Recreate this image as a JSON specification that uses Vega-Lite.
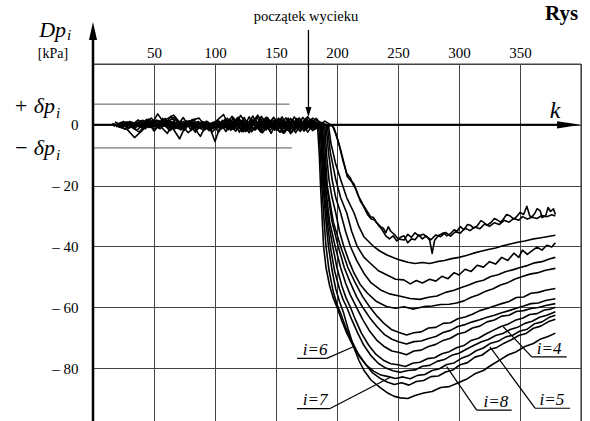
{
"$schema":"https://vega.github.io/schema/vega-lite/v6.json",
"width":488,"height":357,
"autosize":{"type":"none"},
"padding":{"left":93,"top":64,"right":9,"bottom":0},
"background":"white",
"config":{"view":{"stroke":null},"font":"Liberation Serif"},
"datasets":{
"curves":[
{"c":"L3","k":16,"v":0.3},{"c":"L3","k":22,"v":-0.8},{"c":"L3","k":28,"v":-1.5},{"c":"L3","k":34,"v":-4.2},{"c":"L3","k":40,"v":-2},{"c":"L3","k":46,"v":0.5},{"c":"L3","k":52,"v":1.2},{"c":"L3","k":58,"v":-0.5},{"c":"L3","k":64,"v":2.8},{"c":"L3","k":70,"v":-1},{"c":"L3","k":76,"v":0.6},{"c":"L3","k":82,"v":-0.4},{"c":"L3","k":88,"v":-3.8},{"c":"L3","k":94,"v":0.9},{"c":"L3","k":100,"v":-5.5},{"c":"L3","k":106,"v":1.5},{"c":"L3","k":112,"v":-1.2},{"c":"L3","k":118,"v":2.2},{"c":"L3","k":124,"v":-2},{"c":"L3","k":130,"v":1.8},{"c":"L3","k":136,"v":-1.5},{"c":"L3","k":142,"v":2.5},{"c":"L3","k":148,"v":-0.8},{"c":"L3","k":154,"v":-2.4},{"c":"L3","k":160,"v":1.6},{"c":"L3","k":166,"v":-1.3},{"c":"L3","k":172,"v":2.4},{"c":"L3","k":178,"v":-0.5},
{"c":"L3","k":184,"v":0},{"c":"L3","k":185.5,"v":-10},{"c":"L3","k":186.5,"v":-20},{"c":"L3","k":188,"v":-32},{"c":"L3","k":189,"v":-40},{"c":"L3","k":191,"v":-47},{"c":"L3","k":194,"v":-53},{"c":"L3","k":197,"v":-57},{"c":"L3","k":200,"v":-60},{"c":"L3","k":204,"v":-64.5},{"c":"L3","k":208,"v":-68.5},{"c":"L3","k":213,"v":-72.5},{"c":"L3","k":218,"v":-76},{"c":"L3","k":224,"v":-79},{"c":"L3","k":230,"v":-81},{"c":"L3","k":236,"v":-82.3},{"c":"L3","k":242,"v":-82.8},{"c":"L3","k":248,"v":-83.4},{"c":"L3","k":254,"v":-82.9},{"c":"L3","k":260,"v":-83.5},{"c":"L3","k":266,"v":-82.4},{"c":"L3","k":272,"v":-82.1},{"c":"L3","k":278,"v":-80.8},{"c":"L3","k":284,"v":-80.2},{"c":"L3","k":290,"v":-78.8},{"c":"L3","k":296,"v":-78.3},{"c":"L3","k":302,"v":-76.8},{"c":"L3","k":308,"v":-75.9},{"c":"L3","k":314,"v":-74.3},{"c":"L3","k":320,"v":-73.4},{"c":"L3","k":326,"v":-71.8},{"c":"L3","k":332,"v":-71.2},{"c":"L3","k":338,"v":-69.8},{"c":"L3","k":344,"v":-69.2},{"c":"L3","k":350,"v":-67.8},{"c":"L3","k":356,"v":-67.2},{"c":"L3","k":362,"v":-65.4},{"c":"L3","k":368,"v":-64.8},{"c":"L3","k":374,"v":-63.3},{"c":"L3","k":379,"v":-62.6},
{"c":"L2","k":17,"v":-0.5},{"c":"L2","k":23,"v":0.8},{"c":"L2","k":29,"v":-1.2},{"c":"L2","k":35,"v":0.4},{"c":"L2","k":41,"v":1.5},{"c":"L2","k":47,"v":-0.6},{"c":"L2","k":53,"v":3.6},{"c":"L2","k":59,"v":0.2},{"c":"L2","k":65,"v":-0.9},{"c":"L2","k":71,"v":-4.6},{"c":"L2","k":77,"v":0.7},{"c":"L2","k":83,"v":-1.1},{"c":"L2","k":89,"v":0.5},{"c":"L2","k":95,"v":-0.8},{"c":"L2","k":101,"v":1.2},{"c":"L2","k":107,"v":3.4},{"c":"L2","k":113,"v":-1.8},{"c":"L2","k":119,"v":2.5},{"c":"L2","k":125,"v":-1.4},{"c":"L2","k":131,"v":2.9},{"c":"L2","k":137,"v":-2.2},{"c":"L2","k":143,"v":1.7},{"c":"L2","k":149,"v":-0.9},{"c":"L2","k":155,"v":2.6},{"c":"L2","k":161,"v":-1.9},{"c":"L2","k":167,"v":1.4},{"c":"L2","k":173,"v":-2.1},{"c":"L2","k":179,"v":1.8},
{"c":"L2","k":185,"v":0},{"c":"L2","k":186.5,"v":-10},{"c":"L2","k":187.5,"v":-20},{"c":"L2","k":189.5,"v":-32},{"c":"L2","k":191,"v":-40},{"c":"L2","k":193.5,"v":-48},{"c":"L2","k":197,"v":-55},{"c":"L2","k":200,"v":-59},{"c":"L2","k":203,"v":-62},{"c":"L2","k":207,"v":-66.5},{"c":"L2","k":212,"v":-71},{"c":"L2","k":217,"v":-75},{"c":"L2","k":223,"v":-78.5},{"c":"L2","k":229,"v":-81.5},{"c":"L2","k":235,"v":-83.3},{"c":"L2","k":241,"v":-84.6},{"c":"L2","k":247,"v":-85.4},{"c":"L2","k":253,"v":-84.8},{"c":"L2","k":259,"v":-85.6},{"c":"L2","k":265,"v":-84.4},{"c":"L2","k":271,"v":-84.1},{"c":"L2","k":277,"v":-82.8},{"c":"L2","k":283,"v":-82.6},{"c":"L2","k":289,"v":-81.3},{"c":"L2","k":295,"v":-80.6},{"c":"L2","k":301,"v":-78.9},{"c":"L2","k":307,"v":-78.2},{"c":"L2","k":313,"v":-76.4},{"c":"L2","k":319,"v":-75.7},{"c":"L2","k":325,"v":-73.9},{"c":"L2","k":331,"v":-73.2},{"c":"L2","k":337,"v":-71.8},{"c":"L2","k":343,"v":-70.7},{"c":"L2","k":349,"v":-69.3},{"c":"L2","k":355,"v":-68.6},{"c":"L2","k":361,"v":-66.9},{"c":"L2","k":367,"v":-66.2},{"c":"L2","k":373,"v":-64.8},{"c":"L2","k":379,"v":-63.9},
{"c":"L1","k":18,"v":0.9},{"c":"L1","k":24,"v":-0.3},{"c":"L1","k":30,"v":0.6},{"c":"L1","k":36,"v":-1.8},{"c":"L1","k":42,"v":0.5},{"c":"L1","k":48,"v":2.2},{"c":"L1","k":54,"v":-1.1},{"c":"L1","k":60,"v":1.8},{"c":"L1","k":66,"v":3.2},{"c":"L1","k":72,"v":0.4},{"c":"L1","k":78,"v":-2.6},{"c":"L1","k":84,"v":-0.7},{"c":"L1","k":90,"v":1.1},{"c":"L1","k":96,"v":-1.6},{"c":"L1","k":102,"v":0.3},{"c":"L1","k":108,"v":-0.9},{"c":"L1","k":114,"v":2.8},{"c":"L1","k":120,"v":-2.4},{"c":"L1","k":126,"v":1.2},{"c":"L1","k":132,"v":-1.7},{"c":"L1","k":138,"v":2.8},{"c":"L1","k":144,"v":-1.3},{"c":"L1","k":150,"v":1.9},{"c":"L1","k":156,"v":-2.8},{"c":"L1","k":162,"v":2.1},{"c":"L1","k":168,"v":-0.8},{"c":"L1","k":174,"v":1.5},{"c":"L1","k":180,"v":-1.9},
{"c":"L1","k":186,"v":0},{"c":"L1","k":187.5,"v":-10},{"c":"L1","k":188.5,"v":-20},{"c":"L1","k":191,"v":-32},{"c":"L1","k":193,"v":-40},{"c":"L1","k":196,"v":-48},{"c":"L1","k":199,"v":-54},{"c":"L1","k":202,"v":-58},{"c":"L1","k":205.5,"v":-62},{"c":"L1","k":209,"v":-67},{"c":"L1","k":213.6,"v":-73},{"c":"L1","k":218,"v":-77.5},{"c":"L1","k":222,"v":-80.7},{"c":"L1","k":228,"v":-84},{"c":"L1","k":235.7,"v":-86.5},{"c":"L1","k":242,"v":-88.3},{"c":"L1","k":247,"v":-89.3},{"c":"L1","k":252,"v":-89.8},{"c":"L1","k":258,"v":-90},{"c":"L1","k":264,"v":-89},{"c":"L1","k":271,"v":-88.2},{"c":"L1","k":278,"v":-87.7},{"c":"L1","k":285,"v":-86.4},{"c":"L1","k":292,"v":-86.1},{"c":"L1","k":299,"v":-84.9},{"c":"L1","k":306,"v":-83.7},{"c":"L1","k":313,"v":-81.9},{"c":"L1","k":320,"v":-80.8},{"c":"L1","k":327,"v":-78.9},{"c":"L1","k":334,"v":-77.2},{"c":"L1","k":340,"v":-75.7},{"c":"L1","k":347,"v":-74.6},{"c":"L1","k":354,"v":-72.9},{"c":"L1","k":361,"v":-71.9},{"c":"L1","k":367,"v":-70.4},{"c":"L1","k":373,"v":-69.6},{"c":"L1","k":379,"v":-68.5},
{"c":"L4","k":19,"v":-0.2},{"c":"L4","k":25,"v":1.1},{"c":"L4","k":31,"v":-0.7},{"c":"L4","k":37,"v":0.8},{"c":"L4","k":43,"v":-1.3},{"c":"L4","k":49,"v":1.6},{"c":"L4","k":55,"v":-0.4},{"c":"L4","k":61,"v":-2.8},{"c":"L4","k":67,"v":1.9},{"c":"L4","k":73,"v":-1.2},{"c":"L4","k":79,"v":1.4},{"c":"L4","k":85,"v":-0.3},{"c":"L4","k":91,"v":-1.8},{"c":"L4","k":97,"v":0.6},{"c":"L4","k":103,"v":-2.4},{"c":"L4","k":109,"v":1.8},{"c":"L4","k":115,"v":-1.5},{"c":"L4","k":121,"v":3.1},{"c":"L4","k":127,"v":-0.6},{"c":"L4","k":133,"v":2.1},{"c":"L4","k":139,"v":-2.6},{"c":"L4","k":145,"v":0.9},{"c":"L4","k":151,"v":-1.6},{"c":"L4","k":157,"v":1.2},{"c":"L4","k":163,"v":-2.5},{"c":"L4","k":169,"v":2.3},{"c":"L4","k":175,"v":-1.4},{"c":"L4","k":181,"v":0.8},
{"c":"L4","k":186.5,"v":0},{"c":"L4","k":188,"v":-10},{"c":"L4","k":189,"v":-20},{"c":"L4","k":192,"v":-32},{"c":"L4","k":194.5,"v":-40},{"c":"L4","k":198,"v":-48},{"c":"L4","k":202,"v":-54},{"c":"L4","k":205,"v":-57.5},{"c":"L4","k":208,"v":-60},{"c":"L4","k":212,"v":-64},{"c":"L4","k":217,"v":-68.5},{"c":"L4","k":222,"v":-72.5},{"c":"L4","k":228,"v":-76},{"c":"L4","k":234,"v":-78.5},{"c":"L4","k":240,"v":-80},{"c":"L4","k":246,"v":-80.9},{"c":"L4","k":252,"v":-81.4},{"c":"L4","k":258,"v":-80.8},{"c":"L4","k":264,"v":-80.6},{"c":"L4","k":270,"v":-79.4},{"c":"L4","k":276,"v":-79.1},{"c":"L4","k":282,"v":-77.8},{"c":"L4","k":288,"v":-77.2},{"c":"L4","k":294,"v":-75.8},{"c":"L4","k":300,"v":-75.1},{"c":"L4","k":306,"v":-73.8},{"c":"L4","k":312,"v":-72.6},{"c":"L4","k":318,"v":-71.4},{"c":"L4","k":324,"v":-70.6},{"c":"L4","k":330,"v":-69.3},{"c":"L4","k":336,"v":-68.6},{"c":"L4","k":342,"v":-67.3},{"c":"L4","k":348,"v":-66.6},{"c":"L4","k":354,"v":-65.3},{"c":"L4","k":360,"v":-64.6},{"c":"L4","k":366,"v":-63.3},{"c":"L4","k":372,"v":-62.6},{"c":"L4","k":379,"v":-61.5},
{"c":"L5","k":20,"v":0.6},{"c":"L5","k":26,"v":-1.4},{"c":"L5","k":32,"v":0.9},{"c":"L5","k":38,"v":-0.5},{"c":"L5","k":44,"v":1.8},{"c":"L5","k":50,"v":-2.1},{"c":"L5","k":56,"v":0.7},{"c":"L5","k":62,"v":1.3},{"c":"L5","k":68,"v":-0.8},{"c":"L5","k":74,"v":2.4},{"c":"L5","k":80,"v":-1.6},{"c":"L5","k":86,"v":1.1},{"c":"L5","k":92,"v":-0.4},{"c":"L5","k":98,"v":-2.3},{"c":"L5","k":104,"v":0.8},{"c":"L5","k":110,"v":-1.2},{"c":"L5","k":116,"v":1.5},{"c":"L5","k":122,"v":-2.2},{"c":"L5","k":128,"v":2.6},{"c":"L5","k":134,"v":-1.1},{"c":"L5","k":140,"v":1.4},{"c":"L5","k":146,"v":-2.8},{"c":"L5","k":152,"v":2.2},{"c":"L5","k":158,"v":-0.7},{"c":"L5","k":164,"v":1.6},{"c":"L5","k":170,"v":-2.2},{"c":"L5","k":176,"v":2.7},{"c":"L5","k":182,"v":-0.6},
{"c":"L5","k":187,"v":0},{"c":"L5","k":188.5,"v":-10},{"c":"L5","k":190,"v":-20},{"c":"L5","k":193,"v":-32},{"c":"L5","k":196.5,"v":-40},{"c":"L5","k":200,"v":-47},{"c":"L5","k":204,"v":-53},{"c":"L5","k":207.5,"v":-57},{"c":"L5","k":211,"v":-60},{"c":"L5","k":215,"v":-64},{"c":"L5","k":220,"v":-68.5},{"c":"L5","k":226,"v":-72.5},{"c":"L5","k":232,"v":-75.5},{"c":"L5","k":238,"v":-77.4},{"c":"L5","k":244,"v":-78.6},{"c":"L5","k":250,"v":-78.9},{"c":"L5","k":256,"v":-79.5},{"c":"L5","k":262,"v":-78.4},{"c":"L5","k":268,"v":-78.1},{"c":"L5","k":274,"v":-76.9},{"c":"L5","k":280,"v":-76.6},{"c":"L5","k":286,"v":-75.3},{"c":"L5","k":292,"v":-74.6},{"c":"L5","k":298,"v":-73.3},{"c":"L5","k":304,"v":-72.6},{"c":"L5","k":310,"v":-70.9},{"c":"L5","k":316,"v":-70.2},{"c":"L5","k":322,"v":-68.8},{"c":"L5","k":328,"v":-67.6},{"c":"L5","k":334,"v":-66.4},{"c":"L5","k":340,"v":-65.6},{"c":"L5","k":346,"v":-64.3},{"c":"L5","k":352,"v":-63.6},{"c":"L5","k":358,"v":-62.4},{"c":"L5","k":364,"v":-62.1},{"c":"L5","k":370,"v":-60.9},{"c":"L5","k":375,"v":-60.6},{"c":"L5","k":379,"v":-60},
{"c":"L6","k":21,"v":-0.9},{"c":"L6","k":27,"v":0.4},{"c":"L6","k":33,"v":-0.6},{"c":"L6","k":39,"v":1.3},{"c":"L6","k":45,"v":-0.2},{"c":"L6","k":51,"v":-1.5},{"c":"L6","k":57,"v":2.1},{"c":"L6","k":63,"v":-0.9},{"c":"L6","k":69,"v":0.5},{"c":"L6","k":75,"v":-1.8},{"c":"L6","k":81,"v":1.6},{"c":"L6","k":87,"v":2.2},{"c":"L6","k":93,"v":-1.2},{"c":"L6","k":99,"v":0.9},{"c":"L6","k":105,"v":-1.4},{"c":"L6","k":111,"v":0.6},{"c":"L6","k":117,"v":-2.1},{"c":"L6","k":123,"v":1.3},{"c":"L6","k":129,"v":-1.8},{"c":"L6","k":135,"v":3.2},{"c":"L6","k":141,"v":-0.8},{"c":"L6","k":147,"v":1.9},{"c":"L6","k":153,"v":-2.4},{"c":"L6","k":159,"v":0.8},{"c":"L6","k":165,"v":-1.9},{"c":"L6","k":171,"v":1.2},{"c":"L6","k":177,"v":-0.5},{"c":"L6","k":183,"v":2.1},
{"c":"L6","k":187.5,"v":0},{"c":"L6","k":189,"v":-10},{"c":"L6","k":190.5,"v":-20},{"c":"L6","k":194,"v":-32},{"c":"L6","k":198.5,"v":-40},{"c":"L6","k":203,"v":-47},{"c":"L6","k":207,"v":-52},{"c":"L6","k":211,"v":-56},{"c":"L6","k":216,"v":-60},{"c":"L6","k":221,"v":-64},{"c":"L6","k":227,"v":-68},{"c":"L6","k":233,"v":-71},{"c":"L6","k":239,"v":-73},{"c":"L6","k":245,"v":-74.4},{"c":"L6","k":251,"v":-74.9},{"c":"L6","k":257,"v":-75.6},{"c":"L6","k":263,"v":-74.4},{"c":"L6","k":269,"v":-74.1},{"c":"L6","k":275,"v":-72.9},{"c":"L6","k":281,"v":-72.2},{"c":"L6","k":287,"v":-70.9},{"c":"L6","k":293,"v":-70.2},{"c":"L6","k":299,"v":-68.8},{"c":"L6","k":305,"v":-68.2},{"c":"L6","k":311,"v":-66.8},{"c":"L6","k":317,"v":-66.2},{"c":"L6","k":323,"v":-64.8},{"c":"L6","k":329,"v":-64.2},{"c":"L6","k":335,"v":-62.9},{"c":"L6","k":341,"v":-62.6},{"c":"L6","k":347,"v":-61.4},{"c":"L6","k":353,"v":-61.1},{"c":"L6","k":359,"v":-60.4},{"c":"L6","k":365,"v":-60.1},{"c":"L6","k":371,"v":-59.4},{"c":"L6","k":379,"v":-58.8},
{"c":"L7","k":16,"v":0.4},{"c":"L7","k":22,"v":-0.6},{"c":"L7","k":28,"v":0.8},{"c":"L7","k":34,"v":-1.1},{"c":"L7","k":40,"v":0.3},{"c":"L7","k":46,"v":1.9},{"c":"L7","k":52,"v":-0.8},{"c":"L7","k":58,"v":1.4},{"c":"L7","k":64,"v":-1.6},{"c":"L7","k":70,"v":0.7},{"c":"L7","k":76,"v":-0.9},{"c":"L7","k":82,"v":1.8},{"c":"L7","k":88,"v":-0.4},{"c":"L7","k":94,"v":-1.3},{"c":"L7","k":100,"v":0.9},{"c":"L7","k":106,"v":-0.6},{"c":"L7","k":112,"v":1.9},{"c":"L7","k":118,"v":-1.6},{"c":"L7","k":124,"v":2.4},{"c":"L7","k":130,"v":-2.3},{"c":"L7","k":136,"v":1.2},{"c":"L7","k":142,"v":-1.7},{"c":"L7","k":148,"v":2.5},{"c":"L7","k":154,"v":-1.1},{"c":"L7","k":160,"v":2.2},{"c":"L7","k":166,"v":-2.6},{"c":"L7","k":172,"v":1.1},{"c":"L7","k":178,"v":-1.2},
{"c":"L7","k":188,"v":0},{"c":"L7","k":189.5,"v":-10},{"c":"L7","k":191.5,"v":-20},{"c":"L7","k":196,"v":-32},{"c":"L7","k":201,"v":-40},{"c":"L7","k":206,"v":-47},{"c":"L7","k":211,"v":-52},{"c":"L7","k":216,"v":-56.5},{"c":"L7","k":221,"v":-60},{"c":"L7","k":227,"v":-63.5},{"c":"L7","k":233,"v":-66.5},{"c":"L7","k":239,"v":-69},{"c":"L7","k":245,"v":-70.5},{"c":"L7","k":251,"v":-71.4},{"c":"L7","k":257,"v":-72.1},{"c":"L7","k":263,"v":-71.3},{"c":"L7","k":269,"v":-71.1},{"c":"L7","k":275,"v":-70.3},{"c":"L7","k":281,"v":-69.6},{"c":"L7","k":287,"v":-68.3},{"c":"L7","k":293,"v":-67.6},{"c":"L7","k":299,"v":-66.3},{"c":"L7","k":305,"v":-65.7},{"c":"L7","k":311,"v":-64.8},{"c":"L7","k":317,"v":-64.1},{"c":"L7","k":323,"v":-63.3},{"c":"L7","k":329,"v":-62.6},{"c":"L7","k":335,"v":-61.8},{"c":"L7","k":341,"v":-61.1},{"c":"L7","k":347,"v":-60.3},{"c":"L7","k":353,"v":-59.6},{"c":"L7","k":359,"v":-58.8},{"c":"L7","k":365,"v":-58.6},{"c":"L7","k":371,"v":-57.8},{"c":"L7","k":379,"v":-57.2},
{"c":"L8","k":17,"v":-0.3},{"c":"L8","k":23,"v":0.5},{"c":"L8","k":29,"v":-1.1},{"c":"L8","k":35,"v":0.7},{"c":"L8","k":41,"v":-0.4},{"c":"L8","k":47,"v":1.2},{"c":"L8","k":53,"v":-0.7},{"c":"L8","k":59,"v":2.1},{"c":"L8","k":65,"v":-0.6},{"c":"L8","k":71,"v":-1.4},{"c":"L8","k":77,"v":1.3},{"c":"L8","k":83,"v":-0.5},{"c":"L8","k":89,"v":0.9},{"c":"L8","k":95,"v":-1.9},{"c":"L8","k":101,"v":-0.6},{"c":"L8","k":107,"v":1.4},{"c":"L8","k":113,"v":-0.8},{"c":"L8","k":119,"v":2.3},{"c":"L8","k":125,"v":-2.2},{"c":"L8","k":131,"v":1.5},{"c":"L8","k":137,"v":-1.3},{"c":"L8","k":143,"v":2.4},{"c":"L8","k":149,"v":-1.8},{"c":"L8","k":155,"v":0.7},{"c":"L8","k":161,"v":-2.2},{"c":"L8","k":167,"v":2.1},{"c":"L8","k":173,"v":-0.9},{"c":"L8","k":179,"v":1.4},
{"c":"L8","k":189,"v":0},{"c":"L8","k":190.5,"v":-10},{"c":"L8","k":192,"v":-20},{"c":"L8","k":197,"v":-32},{"c":"L8","k":203,"v":-40},{"c":"L8","k":209,"v":-47},{"c":"L8","k":215,"v":-52},{"c":"L8","k":221,"v":-56.5},{"c":"L8","k":227,"v":-60},{"c":"L8","k":233,"v":-63},{"c":"L8","k":239,"v":-65.5},{"c":"L8","k":245,"v":-67.4},{"c":"L8","k":251,"v":-68.3},{"c":"L8","k":257,"v":-69.1},{"c":"L8","k":263,"v":-68.4},{"c":"L8","k":269,"v":-68.1},{"c":"L8","k":275,"v":-66.8},{"c":"L8","k":281,"v":-66.6},{"c":"L8","k":287,"v":-65.3},{"c":"L8","k":293,"v":-65.1},{"c":"L8","k":299,"v":-63.8},{"c":"L8","k":305,"v":-63.2},{"c":"L8","k":311,"v":-62.3},{"c":"L8","k":317,"v":-61.1},{"c":"L8","k":323,"v":-60.4},{"c":"L8","k":329,"v":-59.6},{"c":"L8","k":335,"v":-58.8},{"c":"L8","k":341,"v":-58.1},{"c":"L8","k":347,"v":-56.8},{"c":"L8","k":353,"v":-56.6},{"c":"L8","k":359,"v":-55.4},{"c":"L8","k":365,"v":-55.1},{"c":"L8","k":371,"v":-54.4},{"c":"L8","k":379,"v":-53.8},
{"c":"U1","k":18,"v":0.2},{"c":"U1","k":24,"v":-0.9},{"c":"U1","k":30,"v":1.1},{"c":"U1","k":36,"v":-0.3},{"c":"U1","k":42,"v":-1.2},{"c":"U1","k":48,"v":0.8},{"c":"U1","k":54,"v":1.4},{"c":"U1","k":60,"v":-0.6},{"c":"U1","k":66,"v":0.9},{"c":"U1","k":72,"v":-1.7},{"c":"U1","k":78,"v":0.5},{"c":"U1","k":84,"v":-2.4},{"c":"U1","k":90,"v":0.8},{"c":"U1","k":96,"v":0.4},{"c":"U1","k":102,"v":-1.1},{"c":"U1","k":108,"v":1.7},{"c":"U1","k":114,"v":-1.4},{"c":"U1","k":120,"v":1.9},{"c":"U1","k":126,"v":-2.1},{"c":"U1","k":132,"v":0.6},{"c":"U1","k":138,"v":-2.5},{"c":"U1","k":144,"v":1.8},{"c":"U1","k":150,"v":-0.6},{"c":"U1","k":156,"v":1.6},{"c":"U1","k":162,"v":-2.9},{"c":"U1","k":168,"v":0.9},{"c":"U1","k":174,"v":-1.6},{"c":"U1","k":180,"v":2.2},
{"c":"U1","k":190,"v":0},{"c":"U1","k":191.5,"v":-10},{"c":"U1","k":193.4,"v":-18},{"c":"U1","k":196,"v":-24},{"c":"U1","k":199,"v":-29},{"c":"U1","k":202,"v":-35},{"c":"U1","k":205.6,"v":-40},{"c":"U1","k":210,"v":-45},{"c":"U1","k":214,"v":-48.8},{"c":"U1","k":219,"v":-52.5},{"c":"U1","k":225,"v":-55.4},{"c":"U1","k":232,"v":-58},{"c":"U1","k":241,"v":-59.8},{"c":"U1","k":248,"v":-60.3},{"c":"U1","k":255,"v":-59.8},{"c":"U1","k":262,"v":-60.6},{"c":"U1","k":271,"v":-59.8},{"c":"U1","k":278,"v":-59.6},{"c":"U1","k":285,"v":-59.1},{"c":"U1","k":292,"v":-59},{"c":"U1","k":298,"v":-58.6},{"c":"U1","k":304,"v":-57.9},{"c":"U1","k":310,"v":-56.7},{"c":"U1","k":316,"v":-55.9},{"c":"U1","k":322,"v":-54.7},{"c":"U1","k":328,"v":-53.9},{"c":"U1","k":334,"v":-52.7},{"c":"U1","k":340,"v":-51.9},{"c":"U1","k":346,"v":-50.7},{"c":"U1","k":352,"v":-49.9},{"c":"U1","k":358,"v":-49.1},{"c":"U1","k":364,"v":-48.7},{"c":"U1","k":371,"v":-47.8},{"c":"U1","k":379,"v":-47.2},
{"c":"U2","k":19,"v":-0.6},{"c":"U2","k":25,"v":0.3},{"c":"U2","k":31,"v":-0.4},{"c":"U2","k":37,"v":1.6},{"c":"U2","k":43,"v":-0.8},{"c":"U2","k":49,"v":0.5},{"c":"U2","k":55,"v":-1.3},{"c":"U2","k":61,"v":0.9},{"c":"U2","k":67,"v":2.6},{"c":"U2","k":73,"v":-0.5},{"c":"U2","k":79,"v":1.2},{"c":"U2","k":85,"v":-1.6},{"c":"U2","k":91,"v":0.3},{"c":"U2","k":97,"v":-0.9},{"c":"U2","k":103,"v":1.3},{"c":"U2","k":109,"v":-2.2},{"c":"U2","k":115,"v":2.4},{"c":"U2","k":121,"v":-1.2},{"c":"U2","k":127,"v":0.9},{"c":"U2","k":133,"v":-1.7},{"c":"U2","k":139,"v":2.2},{"c":"U2","k":145,"v":-1.9},{"c":"U2","k":151,"v":1.1},{"c":"U2","k":157,"v":-2.6},{"c":"U2","k":163,"v":1.5},{"c":"U2","k":169,"v":-0.4},{"c":"U2","k":175,"v":2.3},{"c":"U2","k":181,"v":-1.5},
{"c":"U2","k":191,"v":0},{"c":"U2","k":193,"v":-9},{"c":"U2","k":196,"v":-18},{"c":"U2","k":199,"v":-24},{"c":"U2","k":203,"v":-29},{"c":"U2","k":207,"v":-35},{"c":"U2","k":211,"v":-40},{"c":"U2","k":216,"v":-44.5},{"c":"U2","k":222,"v":-48.8},{"c":"U2","k":228,"v":-52},{"c":"U2","k":235.7,"v":-54.3},{"c":"U2","k":243,"v":-55.6},{"c":"U2","k":252,"v":-56.4},{"c":"U2","k":260,"v":-57.1},{"c":"U2","k":268,"v":-57.4},{"c":"U2","k":275,"v":-56.7},{"c":"U2","k":282,"v":-56.3},{"c":"U2","k":289,"v":-55.1},{"c":"U2","k":296,"v":-54.4},{"c":"U2","k":302,"v":-53.5},{"c":"U2","k":308,"v":-52.7},{"c":"U2","k":314,"v":-51.7},{"c":"U2","k":320,"v":-51.1},{"c":"U2","k":326,"v":-49.9},{"c":"U2","k":332,"v":-49.3},{"c":"U2","k":338,"v":-48.3},{"c":"U2","k":344,"v":-47.7},{"c":"U2","k":350,"v":-46.9},{"c":"U2","k":356,"v":-46.3},{"c":"U2","k":362,"v":-45.4},{"c":"U2","k":368,"v":-45},{"c":"U2","k":374,"v":-44.1},{"c":"U2","k":379,"v":-43.6},
{"c":"U3","k":20,"v":0.1},{"c":"U3","k":26,"v":0.7},{"c":"U3","k":32,"v":-0.9},{"c":"U3","k":38,"v":-2.4},{"c":"U3","k":44,"v":0.6},{"c":"U3","k":50,"v":-0.7},{"c":"U3","k":56,"v":1.2},{"c":"U3","k":62,"v":-1.3},{"c":"U3","k":68,"v":0.4},{"c":"U3","k":74,"v":1.1},{"c":"U3","k":80,"v":-0.6},{"c":"U3","k":86,"v":0.9},{"c":"U3","k":92,"v":-1.5},{"c":"U3","k":98,"v":0.7},{"c":"U3","k":104,"v":-0.8},{"c":"U3","k":110,"v":2.2},{"c":"U3","k":116,"v":-1.1},{"c":"U3","k":122,"v":1.4},{"c":"U3","k":128,"v":-2.6},{"c":"U3","k":134,"v":2.7},{"c":"U3","k":140,"v":-0.9},{"c":"U3","k":146,"v":1.3},{"c":"U3","k":152,"v":-1.5},{"c":"U3","k":158,"v":2.3},{"c":"U3","k":164,"v":-1.1},{"c":"U3","k":170,"v":1.7},{"c":"U3","k":176,"v":-2.4},{"c":"U3","k":182,"v":0.9},
{"c":"U3","k":192,"v":0},{"c":"U3","k":194.5,"v":-9},{"c":"U3","k":199,"v":-18},{"c":"U3","k":203,"v":-24},{"c":"U3","k":208,"v":-29},{"c":"U3","k":212,"v":-35},{"c":"U3","k":216.6,"v":-40},{"c":"U3","k":222,"v":-43.5},{"c":"U3","k":227.5,"v":-45.6},{"c":"U3","k":234,"v":-48},{"c":"U3","k":241,"v":-49.4},{"c":"U3","k":248,"v":-50.8},{"c":"U3","k":254.7,"v":-51},{"c":"U3","k":260,"v":-52.3},{"c":"U3","k":265,"v":-51.2},{"c":"U3","k":270,"v":-52},{"c":"U3","k":276,"v":-50.8},{"c":"U3","k":281,"v":-51.4},{"c":"U3","k":286,"v":-49.8},{"c":"U3","k":291,"v":-50.6},{"c":"U3","k":296,"v":-48.6},{"c":"U3","k":300,"v":-49.4},{"c":"U3","k":305,"v":-47.5},{"c":"U3","k":310,"v":-48.2},{"c":"U3","k":315,"v":-46.2},{"c":"U3","k":320,"v":-46.8},{"c":"U3","k":325,"v":-45},{"c":"U3","k":330,"v":-45.8},{"c":"U3","k":335,"v":-43.6},{"c":"U3","k":340,"v":-44.6},{"c":"U3","k":345,"v":-42.2},{"c":"U3","k":349,"v":-43.6},{"c":"U3","k":352,"v":-41.2},{"c":"U3","k":356,"v":-42.6},{"c":"U3","k":360,"v":-41.4},{"c":"U3","k":364,"v":-40.2},{"c":"U3","k":368,"v":-41.2},{"c":"U3","k":372,"v":-39.6},{"c":"U3","k":376,"v":-40.2},{"c":"U3","k":379,"v":-38.8},
{"c":"U4","k":21,"v":-0.4},{"c":"U4","k":27,"v":0.9},{"c":"U4","k":33,"v":0.3},{"c":"U4","k":39,"v":-0.8},{"c":"U4","k":45,"v":1.1},{"c":"U4","k":51,"v":-0.5},{"c":"U4","k":57,"v":0.6},{"c":"U4","k":63,"v":-1.9},{"c":"U4","k":69,"v":0.8},{"c":"U4","k":75,"v":-0.3},{"c":"U4","k":81,"v":1.5},{"c":"U4","k":87,"v":-0.8},{"c":"U4","k":93,"v":1.2},{"c":"U4","k":99,"v":-0.6},{"c":"U4","k":105,"v":0.4},{"c":"U4","k":111,"v":-1.6},{"c":"U4","k":117,"v":1.2},{"c":"U4","k":123,"v":-2.3},{"c":"U4","k":129,"v":1.7},{"c":"U4","k":135,"v":-0.9},{"c":"U4","k":141,"v":2.1},{"c":"U4","k":147,"v":-1.3},{"c":"U4","k":153,"v":0.7},{"c":"U4","k":159,"v":-1.8},{"c":"U4","k":165,"v":2.6},{"c":"U4","k":171,"v":-1.5},{"c":"U4","k":177,"v":0.8},{"c":"U4","k":183,"v":-1.1},
{"c":"U4","k":193,"v":0},{"c":"U4","k":195,"v":-6},{"c":"U4","k":199,"v":-13},{"c":"U4","k":203,"v":-18},{"c":"U4","k":208,"v":-24},{"c":"U4","k":214,"v":-29},{"c":"U4","k":218,"v":-33.5},{"c":"U4","k":222,"v":-36.8},{"c":"U4","k":230,"v":-40},{"c":"U4","k":235,"v":-41.5},{"c":"U4","k":241,"v":-42.8},{"c":"U4","k":247,"v":-43.8},{"c":"U4","k":252,"v":-44.5},{"c":"U4","k":258,"v":-45.2},{"c":"U4","k":264,"v":-45.6},{"c":"U4","k":270,"v":-45.3},{"c":"U4","k":276,"v":-45.6},{"c":"U4","k":282,"v":-45},{"c":"U4","k":288,"v":-44.6},{"c":"U4","k":294,"v":-44},{"c":"U4","k":300,"v":-43.6},{"c":"U4","k":306,"v":-43},{"c":"U4","k":312,"v":-42.2},{"c":"U4","k":318,"v":-41.6},{"c":"U4","k":324,"v":-41},{"c":"U4","k":330,"v":-40.5},{"c":"U4","k":336,"v":-39.8},{"c":"U4","k":342,"v":-39.2},{"c":"U4","k":348,"v":-38.6},{"c":"U4","k":354,"v":-38.2},{"c":"U4","k":360,"v":-37.6},{"c":"U4","k":366,"v":-37.2},{"c":"U4","k":372,"v":-36.8},{"c":"U4","k":379,"v":-36.3},
{"c":"T","k":16,"v":0.2},{"c":"T","k":22,"v":-0.4},{"c":"T","k":28,"v":0.9},{"c":"T","k":34,"v":-0.6},{"c":"T","k":40,"v":0.5},{"c":"T","k":46,"v":-0.9},{"c":"T","k":52,"v":1.6},{"c":"T","k":58,"v":-0.3},{"c":"T","k":64,"v":1.1},{"c":"T","k":70,"v":-0.8},{"c":"T","k":76,"v":0.3},{"c":"T","k":82,"v":0.7},{"c":"T","k":88,"v":-1.2},{"c":"T","k":94,"v":0.5},{"c":"T","k":100,"v":-0.7},{"c":"T","k":106,"v":1.2},{"c":"T","k":112,"v":-0.5},{"c":"T","k":118,"v":1.7},{"c":"T","k":124,"v":-1.3},{"c":"T","k":130,"v":0.8},{"c":"T","k":136,"v":-1.5},{"c":"T","k":142,"v":1.4},{"c":"T","k":148,"v":-0.9},{"c":"T","k":154,"v":1.9},{"c":"T","k":160,"v":-1.4},{"c":"T","k":166,"v":0.6},{"c":"T","k":172,"v":-1.1},{"c":"T","k":178,"v":1.8},{"c":"T","k":184,"v":-0.9},{"c":"T","k":190,"v":1.2},
{"c":"T","k":195,"v":0},{"c":"T","k":197.5,"v":-1},{"c":"T","k":200,"v":-4},{"c":"T","k":203,"v":-8.3},{"c":"T","k":206,"v":-13},{"c":"T","k":208.4,"v":-17},{"c":"T","k":211,"v":-18.2},{"c":"T","k":214,"v":-19.5},{"c":"T","k":217,"v":-23},{"c":"T","k":219.3,"v":-24.7},{"c":"T","k":221,"v":-26},{"c":"T","k":224,"v":-28},{"c":"T","k":227.5,"v":-30.2},{"c":"T","k":230,"v":-30.5},{"c":"T","k":232,"v":-32},{"c":"T","k":235.7,"v":-33.5},{"c":"T","k":238,"v":-34},{"c":"T","k":240,"v":-35.5},{"c":"T","k":242,"v":-33.5},{"c":"T","k":244,"v":-35},{"c":"T","k":247,"v":-36},{"c":"T","k":250,"v":-37.5},{"c":"T","k":255,"v":-37.9},{"c":"T","k":258,"v":-36},{"c":"T","k":261,"v":-37},{"c":"T","k":264,"v":-35.5},{"c":"T","k":267,"v":-36.5},{"c":"T","k":271,"v":-36},{"c":"T","k":274,"v":-37},{"c":"T","k":276,"v":-38},{"c":"T","k":278,"v":-42.3},{"c":"T","k":280,"v":-38},{"c":"T","k":283,"v":-36.5},{"c":"T","k":287.5,"v":-35.5},{"c":"T","k":290,"v":-36.5},{"c":"T","k":293,"v":-35.8},{"c":"T","k":296,"v":-34.5},{"c":"T","k":298.4,"v":-35},{"c":"T","k":301,"v":-33.5},{"c":"T","k":304,"v":-34.5},{"c":"T","k":307,"v":-32.8},{"c":"T","k":309.3,"v":-33},{"c":"T","k":312,"v":-34},{"c":"T","k":315,"v":-33.2},{"c":"T","k":318,"v":-31.5},{"c":"T","k":320,"v":-32},{"c":"T","k":323,"v":-33},{"c":"T","k":326,"v":-32.2},{"c":"T","k":329,"v":-30.8},{"c":"T","k":331,"v":-31.2},{"c":"T","k":334,"v":-32},{"c":"T","k":336,"v":-31.2},{"c":"T","k":339,"v":-29.5},{"c":"T","k":342,"v":-30},{"c":"T","k":345,"v":-31},{"c":"T","k":347,"v":-30.3},{"c":"T","k":350,"v":-28.8},{"c":"T","k":353,"v":-29.5},{"c":"T","k":355.6,"v":-26.8},{"c":"T","k":358,"v":-30},{"c":"T","k":360,"v":-30.2},{"c":"T","k":362,"v":-29.2},{"c":"T","k":364,"v":-27.6},{"c":"T","k":366.5,"v":-28.2},{"c":"T","k":368,"v":-30.5},{"c":"T","k":371,"v":-30},{"c":"T","k":373,"v":-27.2},{"c":"T","k":375,"v":-28.5},{"c":"T","k":377.4,"v":-27.6},{"c":"T","k":379,"v":-29.5},
{"c":"T2","k":19,"v":-0.1},{"c":"T2","k":25,"v":0.6},{"c":"T2","k":31,"v":-0.5},{"c":"T2","k":37,"v":0.3},{"c":"T2","k":43,"v":-0.8},{"c":"T2","k":49,"v":1.1},{"c":"T2","k":55,"v":-0.4},{"c":"T2","k":61,"v":0.7},{"c":"T2","k":67,"v":-1.3},{"c":"T2","k":73,"v":0.6},{"c":"T2","k":79,"v":-0.2},{"c":"T2","k":85,"v":-0.9},{"c":"T2","k":91,"v":0.8},{"c":"T2","k":97,"v":-0.4},{"c":"T2","k":103,"v":1.1},{"c":"T2","k":109,"v":-0.6},{"c":"T2","k":115,"v":1.3},{"c":"T2","k":121,"v":-0.9},{"c":"T2","k":127,"v":0.5},{"c":"T2","k":133,"v":-1.6},{"c":"T2","k":139,"v":1.2},{"c":"T2","k":145,"v":-0.7},{"c":"T2","k":151,"v":1.6},{"c":"T2","k":157,"v":-1.2},{"c":"T2","k":163,"v":0.9},{"c":"T2","k":169,"v":-1.8},{"c":"T2","k":175,"v":1.3},{"c":"T2","k":181,"v":-0.4},{"c":"T2","k":187,"v":0.8},{"c":"T2","k":193,"v":-0.6},
{"c":"T2","k":196,"v":0},{"c":"T2","k":199,"v":-3},{"c":"T2","k":202,"v":-7},{"c":"T2","k":205,"v":-12},{"c":"T2","k":208,"v":-16},{"c":"T2","k":211,"v":-17.5},{"c":"T2","k":213,"v":-19.5},{"c":"T2","k":216,"v":-21.5},{"c":"T2","k":219,"v":-25},{"c":"T2","k":222,"v":-27},{"c":"T2","k":225,"v":-29.5},{"c":"T2","k":228,"v":-31},{"c":"T2","k":231,"v":-31.3},{"c":"T2","k":234,"v":-33},{"c":"T2","k":237,"v":-34.5},{"c":"T2","k":240,"v":-36.5},{"c":"T2","k":243,"v":-37.5},{"c":"T2","k":246,"v":-36.5},{"c":"T2","k":249,"v":-38.2},{"c":"T2","k":252,"v":-37},{"c":"T2","k":255,"v":-36.5},{"c":"T2","k":258,"v":-38.8},{"c":"T2","k":261,"v":-37.5},{"c":"T2","k":264,"v":-37.8},{"c":"T2","k":267,"v":-36.2},{"c":"T2","k":270,"v":-37.5},{"c":"T2","k":273,"v":-36.6},{"c":"T2","k":277,"v":-37.8},{"c":"T2","k":281,"v":-36.2},{"c":"T2","k":285,"v":-36.8},{"c":"T2","k":289,"v":-35.4},{"c":"T2","k":293,"v":-36.6},{"c":"T2","k":297,"v":-35.2},{"c":"T2","k":301,"v":-35.6},{"c":"T2","k":305,"v":-34},{"c":"T2","k":309,"v":-34.8},{"c":"T2","k":313,"v":-33.6},{"c":"T2","k":317,"v":-34.2},{"c":"T2","k":321,"v":-32.6},{"c":"T2","k":325,"v":-33.4},{"c":"T2","k":329,"v":-32.2},{"c":"T2","k":333,"v":-32.8},{"c":"T2","k":337,"v":-31.4},{"c":"T2","k":341,"v":-32},{"c":"T2","k":345,"v":-30.8},{"c":"T2","k":349,"v":-31.4},{"c":"T2","k":352,"v":-30.2},{"c":"T2","k":356,"v":-31},{"c":"T2","k":360,"v":-30.4},{"c":"T2","k":364,"v":-30.8},{"c":"T2","k":368,"v":-29.8},{"c":"T2","k":372,"v":-30.2},{"c":"T2","k":376,"v":-29.6},{"c":"T2","k":379,"v":-30}
],
"leaders":[
{"k1":167.2,"v1":-76.8,"k2":191.6,"v2":-76.8},{"k1":191.6,"v1":-76.8,"k2":213.4,"v2":-73.0},
{"k1":167.2,"v1":-93.3,"k2":194.3,"v2":-93.3},{"k1":194.3,"v1":-93.3,"k2":243.4,"v2":-83.1},
{"k1":314.5,"v1":-93.8,"k2":343.2,"v2":-93.8},{"k1":314.5,"v1":-93.8,"k2":289.9,"v2":-79.5},
{"k1":362.3,"v1":-93.2,"k2":391,"v2":-93.2},{"k1":362.3,"v1":-93.2,"k2":325.4,"v2":-73},
{"k1":359.6,"v1":-76.3,"k2":388.3,"v2":-76.3},{"k1":359.6,"v1":-76.3,"k2":336.3,"v2":-66.4}
],
"labels":[
{"t":"i=6","k":182,"v":-75.7},{"t":"i=7","k":182,"v":-92.3},{"t":"i=8","k":330.3,"v":-92.8},{"t":"i=5","k":376.2,"v":-92.3},{"t":"i=4","k":373.8,"v":-75.4}
]
},
"layer":[
{"data":{"name":"curves"},
 "mark":{"type":"line","color":"black","strokeWidth":1.6,"strokeJoin":"round"},
 "encoding":{
  "x":{"field":"k","type":"quantitative","scale":{"domain":[0,400],"nice":false,"zero":false},
   "axis":{"orient":"top","title":null,"values":[50,100,150,200,250,300,350,400],"labelExpr":"datum.value == 400 ? '' : datum.label","grid":true,"gridColor":"#444","gridWidth":1,"domain":false,"ticks":false,"labelFont":"Liberation Serif","labelFontSize":15,"labelColor":"black","labelPadding":7,"labelBaseline":"alphabetic","labelFlush":false}},
  "y":{"field":"v","type":"quantitative","scale":{"domain":[-97.4,20],"nice":false,"zero":false},
   "axis":{"title":null,"values":[-80,-60,-40,-20,0,20],"labelExpr":"datum.value == 20 ? '' : (datum.value < 0 ? '– ' + abs(datum.value) : '0')","grid":true,"gridColor":"#444","gridWidth":1,"domain":false,"ticks":false,"labelFont":"Liberation Serif","labelFontSize":15,"labelColor":"black","labelPadding":15,"labelFlush":false}},
  "detail":{"field":"c"}}},
{"data":{"values":[{"k1":0,"k2":400,"v1":20,"v2":20},{"k1":400,"k2":400,"v1":-97.4,"v2":20}]},
 "mark":{"type":"rule","color":"#444","strokeWidth":1.2},
 "encoding":{"x":{"field":"k1","type":"quantitative"},"x2":{"field":"k2"},"y":{"field":"v1","type":"quantitative"},"y2":{"field":"v2"}}},
{"data":{"values":[{"k1":0,"k2":161,"v":6.8},{"k1":0,"k2":163,"v":-7.6}]},
 "mark":{"type":"rule","color":"#555","strokeWidth":1},
 "encoding":{"x":{"field":"k1","type":"quantitative"},"x2":{"field":"k2"},"y":{"field":"v","type":"quantitative"}}},
{"data":{"values":[{"k1":0,"k2":392,"v":0}]},
 "mark":{"type":"rule","color":"black","strokeWidth":2},
 "encoding":{"x":{"field":"k1","type":"quantitative"},"x2":{"field":"k2"},"y":{"field":"v","type":"quantitative"}}},
{"data":{"values":[{"k":0,"v1":-97.4,"v2":31}]},
 "mark":{"type":"rule","color":"black","strokeWidth":2.5},
 "encoding":{"x":{"field":"k","type":"quantitative"},"y":{"field":"v1","type":"quantitative"},"y2":{"field":"v2"}}},
{"data":{"values":[{"k":390.2,"v":0}]},
 "mark":{"type":"point","shape":"M-1,-0.3L1,0L-1,0.3Z","size":576,"filled":true,"color":"black","opacity":1},
 "encoding":{"x":{"field":"k","type":"quantitative"},"y":{"field":"v","type":"quantitative"}}},
{"data":{"values":[{"k":0,"v":30.85}]},
 "mark":{"type":"point","shape":"M-0.45,1L0,-1L0.45,1Z","size":324,"filled":true,"color":"black","opacity":1},
 "encoding":{"x":{"field":"k","type":"quantitative"},"y":{"field":"v","type":"quantitative"}}},
{"data":{"values":[{"k":176.6,"v1":31.2,"v2":5.5}]},
 "mark":{"type":"rule","color":"black","strokeWidth":1.3},
 "encoding":{"x":{"field":"k","type":"quantitative"},"y":{"field":"v1","type":"quantitative"},"y2":{"field":"v2"}}},
{"data":{"values":[{"k":176.6,"v":4.2}]},
 "mark":{"type":"point","shape":"M-0.6,-1L0,1L0.6,-1Z","size":100,"filled":true,"color":"black","opacity":1},
 "encoding":{"x":{"field":"k","type":"quantitative"},"y":{"field":"v","type":"quantitative"}}},
{"data":{"name":"leaders"},
 "mark":{"type":"rule","color":"black","strokeWidth":1.2},
 "encoding":{"x":{"field":"k1","type":"quantitative"},"x2":{"field":"k2"},"y":{"field":"v1","type":"quantitative"},"y2":{"field":"v2"}}},
{"data":{"name":"labels"},
 "mark":{"type":"text","font":"Liberation Serif","fontStyle":"italic","fontSize":17,"align":"center","baseline":"alphabetic","color":"black"},
 "encoding":{"x":{"field":"k","type":"quantitative"},"y":{"field":"v","type":"quantitative"},"text":{"field":"t"}}},
{"data":{"values":[{"t":"początek wycieku","k":174.6,"v":34.2}]},
 "mark":{"type":"text","font":"Liberation Serif","fontSize":14.5,"align":"center","baseline":"alphabetic","color":"black"},
 "encoding":{"x":{"field":"k","type":"quantitative"},"y":{"field":"v","type":"quantitative"},"text":{"field":"t"}}},
{"data":{"values":[{"t":"Dp","k":-22.1,"v":29.0},{"t":"+ δp","k":-31.1,"v":3.9},{"t":"− δp","k":-31.1,"v":-9.9}]},
 "mark":{"type":"text","font":"Liberation Serif","fontStyle":"italic","fontSize":22,"align":"right","baseline":"alphabetic","color":"black"},
 "encoding":{"x":{"field":"k","type":"quantitative"},"y":{"field":"v","type":"quantitative"},"text":{"field":"t"}}},
{"data":{"values":[{"t":"i","k":-21.3,"v":27.9},{"t":"i","k":-30.3,"v":2.2},{"t":"i","k":-30.3,"v":-11.6}]},
 "mark":{"type":"text","font":"Liberation Serif","fontStyle":"italic","fontSize":15,"align":"left","baseline":"alphabetic","color":"black"},
 "encoding":{"x":{"field":"k","type":"quantitative"},"y":{"field":"v","type":"quantitative"},"text":{"field":"t"}}},
{"data":{"values":[{"t":"[kPa]","k":-32.8,"v":22}]},
 "mark":{"type":"text","font":"Liberation Serif","fontSize":14,"align":"center","baseline":"alphabetic","color":"black"},
 "encoding":{"x":{"field":"k","type":"quantitative"},"y":{"field":"v","type":"quantitative"},"text":{"field":"t"}}},
{"data":{"values":[{"t":"k","k":378.7,"v":2.4}]},
 "mark":{"type":"text","font":"Liberation Serif","fontStyle":"italic","fontSize":24,"align":"center","baseline":"alphabetic","color":"black"},
 "encoding":{"x":{"field":"k","type":"quantitative"},"y":{"field":"v","type":"quantitative"},"text":{"field":"t"}}},
{"data":{"values":[{"t":"Rys","k":370.5,"v":34.6}]},
 "mark":{"type":"text","font":"Liberation Serif","fontWeight":"bold","fontSize":21,"align":"left","baseline":"alphabetic","color":"black"},
 "encoding":{"x":{"field":"k","type":"quantitative"},"y":{"field":"v","type":"quantitative"},"text":{"field":"t"}}}
]
}
